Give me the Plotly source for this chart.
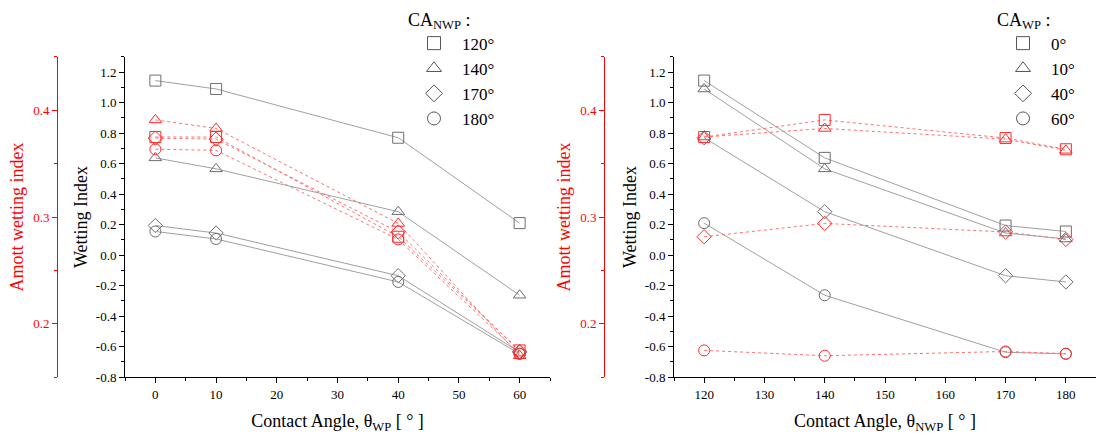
import plotly.graph_objects as go

# Contact angles (degrees)
wp_angles = [0, 10, 40, 60]          # wetting-phase contact angle
nwp_angles = [120, 140, 170, 180]    # non-wetting-phase contact angle

# Wetting index, one list per CA_NWP, ordered by wp_angles
wi_120 = [1.145, 1.09, 0.77, 0.21]
wi_140 = [0.638, 0.566, 0.285, -0.263]
wi_170 = [0.194, 0.145, -0.135, -0.637]
wi_180 = [0.155, 0.106, -0.176, -0.648]

# Amott wetting index, one list per CA_NWP, ordered by wp_angles
amott_120 = [0.375, 0.375, 0.2815, 0.175]
amott_140 = [0.391, 0.383, 0.294, 0.170]
amott_170 = [0.374, 0.373, 0.286, 0.174]
amott_180 = [0.3635, 0.3625, 0.279, 0.172]

# Axis ticks
wi_ticks = [-0.8, -0.6, -0.4, -0.2, 0.0, 0.2, 0.4, 0.6, 0.8, 1.0, 1.2]
amott_ticks = [0.2, 0.3, 0.4]
wp_ticks = [0, 10, 20, 30, 40, 50, 60]
nwp_ticks = [120, 130, 140, 150, 160, 170, 180]

nwp_labels = ["120°", "140°", "170°", "180°"]
wp_labels = ["0°", "10°", "40°", "60°"]
symbols = ["square-open", "triangle-up-open", "diamond-open", "circle-open"]

wi_rows = [wi_120, wi_140, wi_170, wi_180]
amott_rows = [amott_120, amott_140, amott_170, amott_180]

FONT = "Liberation Serif, Times New Roman, DejaVu Serif, serif"
GRAY_LINE = "#a0a0a0"
GRAY_MARK = "#6e6e6e"
RED_LINE = "#ff7070"
RED_MARK = "#ff2a2a"
MSIZE = 11

fig = go.Figure()

# Left panel: x = theta_WP, one series per CA_NWP
for i in range(4):
    fig.add_trace(go.Scatter(
        x=wp_angles, y=wi_rows[i], mode="lines+markers", xaxis="x", yaxis="y",
        line=dict(color=GRAY_LINE, width=1),
        marker=dict(symbol=symbols[i], size=MSIZE, color=GRAY_MARK, line=dict(width=1)),
        showlegend=False))
for i in range(4):
    fig.add_trace(go.Scatter(
        x=wp_angles, y=amott_rows[i], mode="lines+markers", xaxis="x", yaxis="y2",
        line=dict(color=RED_LINE, width=1, dash="dot"),
        marker=dict(symbol=symbols[i], size=MSIZE, color=RED_MARK, line=dict(width=1)),
        showlegend=False))

# Right panel: x = theta_NWP, one series per CA_WP
for j in range(4):
    fig.add_trace(go.Scatter(
        x=nwp_angles, y=[row[j] for row in wi_rows], mode="lines+markers",
        xaxis="x2", yaxis="y3",
        line=dict(color=GRAY_LINE, width=1),
        marker=dict(symbol=symbols[j], size=MSIZE, color=GRAY_MARK, line=dict(width=1)),
        showlegend=False))
for j in range(4):
    fig.add_trace(go.Scatter(
        x=nwp_angles, y=[row[j] for row in amott_rows], mode="lines+markers",
        xaxis="x2", yaxis="y4",
        line=dict(color=RED_LINE, width=1, dash="dot"),
        marker=dict(symbol=symbols[j], size=MSIZE, color=RED_MARK, line=dict(width=1)),
        showlegend=False))

# Legend entries (symbol only)
for i in range(4):
    fig.add_trace(go.Scatter(
        x=[None], y=[None], mode="markers", xaxis="x", yaxis="y",
        marker=dict(symbol=symbols[i], size=13, color="#555555", line=dict(width=1)),
        name=nwp_labels[i], legend="legend"))
for j in range(4):
    fig.add_trace(go.Scatter(
        x=[None], y=[None], mode="markers", xaxis="x2", yaxis="y3",
        marker=dict(symbol=symbols[j], size=13, color="#555555", line=dict(width=1)),
        name=wp_labels[j], legend="legend2"))

W, H = 1096, 444
y_dom = [(H - 384) / H, (H - 58) / H]

tickfont = dict(family=FONT, size=13, color="black")
redfont = dict(family=FONT, size=13, color="red")
titlefont = dict(family=FONT, size=18, color="black")
redtitle = dict(family=FONT, size=18, color="red")

def x_axis(domain, rng, ticks, title, anchor):
    return dict(
        domain=domain, range=rng, anchor=anchor, tickmode="array", tickvals=ticks,
        showline=True, linecolor="black", linewidth=1, ticks="outside", ticklen=5,
        tickcolor="black", tickfont=tickfont, showgrid=False, zeroline=False,
        minor=dict(dtick=5, tick0=0, ticks="outside", ticklen=3, tickcolor="black"),
        title=dict(text=title, font=titlefont, standoff=13))

def wi_axis(anchor):
    return dict(
        domain=y_dom, range=[-0.8, 1.3], anchor=anchor, tickmode="array",
        tickvals=wi_ticks, ticktext=[f"{v:.1f}" for v in wi_ticks],
        showline=True, linecolor="black", linewidth=1, ticks="outside", ticklen=5,
        tickcolor="black", tickfont=tickfont, showgrid=False, zeroline=False,
        minor=dict(dtick=0.1, tick0=0, ticks="outside", ticklen=3, tickcolor="black"),
        title=dict(text="Wetting Index", font=titlefont, standoff=3))

def amott_axis(overlay, pos):
    return dict(
        domain=y_dom, range=[0.15, 0.45], overlaying=overlay, anchor="free",
        position=pos, side="left", tickmode="array", tickvals=amott_ticks,
        ticktext=[f"{v:.1f}" for v in amott_ticks],
        showline=True, linecolor="red", linewidth=1, ticks="outside", ticklen=5,
        tickcolor="red", tickfont=redfont, showgrid=False, zeroline=False,
        minor=dict(dtick=0.05, tick0=0, ticks="outside", ticklen=3, tickcolor="red"),
        title=dict(text="Amott wetting index", font=redtitle, standoff=3))

legend_common = dict(
    bgcolor="rgba(0,0,0,0)", borderwidth=0, font=dict(family=FONT, size=17, color="black"),
    xanchor="left", yanchor="top", itemsizing="trace", tracegroupgap=0, itemwidth=46)

fig.update_layout(
    width=W, height=H, margin=dict(l=0, r=0, t=0, b=0),
    paper_bgcolor="white", plot_bgcolor="white",
    font=dict(family=FONT),
    xaxis=x_axis([125 / W, 550 / W], [-5, 65], wp_ticks,
                 "Contact Angle, θ<sub>WP</sub> [ ° ]", "y"),
    yaxis=wi_axis("x"),
    yaxis2=amott_axis("y", 57 / W),
    xaxis2=x_axis([674 / W, 1.0], [115, 185], nwp_ticks,
                  "Contact Angle, θ<sub>NWP</sub> [ ° ]", "y3"),
    yaxis3=wi_axis("x2"),
    yaxis4=amott_axis("y3", 604 / W),
    legend=dict(x=406 / W, y=0.995, title=dict(text="CA<sub>NWP</sub> :",
                font=dict(family=FONT, size=18)), **legend_common),
    legend2=dict(x=995 / W, y=0.995, title=dict(text="CA<sub>WP</sub> :",
                 font=dict(family=FONT, size=18)), **legend_common),
)

fig.write_html("out.html")
